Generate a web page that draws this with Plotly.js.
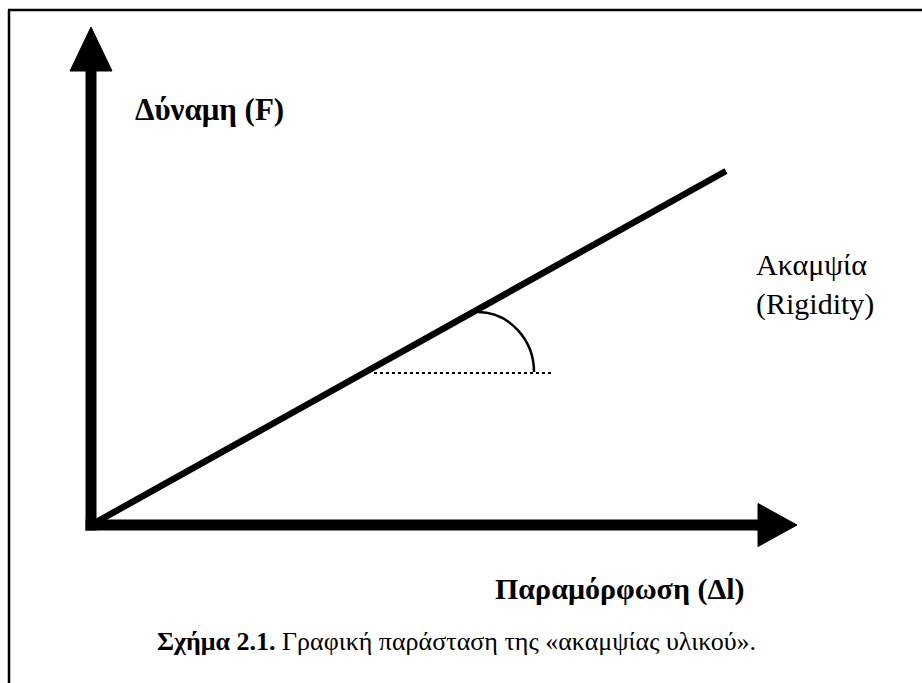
<!DOCTYPE html>
<html>
<head>
<meta charset="utf-8">
<script src="https://cdn.plot.ly/plotly-3.0.1.min.js"></script>
<style>
  html, body { margin: 0; padding: 0; background: #fff; }
  #chart { width: 922px; height: 683px; }
</style>
</head>
<body>
<div id="chart"></div>
<script>
// Force vs. deformation: a straight line whose slope is the rigidity
const deformation = [0, 6.35];
const force = [0, 3.54];

// Axis arrow extents (data units)
const xAxisTip = 7.06, xHeadBase = 6.67;
const yAxisTip = 4.98, yHeadBase = 4.54;

// Labels
const yLabel = 'Δύναμη (F)';
const xLabel = 'Παραμόρφωση (Δl)';
const slopeLabel = ['Ακαμψία', '(Rigidity)'];
const captionBold = 'Σχήμα 2.1.';
const captionText = ' Γραφική παράσταση της «ακαμψίας υλικού».';

const W = 922, H = 683;
const px = v => v / W;
const py = v => 1 - v / H;
const serif = 'Liberation Serif';

// Slope-angle marker: dotted baseline and quarter arc
const baseY = 1.52, baseX0 = 2.83, baseX1 = 4.61;
const arcCx = 3.87, arcTop = 2.13, arcRx = 0.56, arcRy = 0.60;
const k = 0.5523;
const arcPath = `M${arcCx},${arcTop} C${arcCx + arcRx * k},${arcTop} ${arcCx + arcRx},${baseY + arcRy * k} ${arcCx + arcRx},${baseY + 0.01}`;

const trace = {
  x: deformation,
  y: force,
  mode: 'lines',
  line: { color: '#000', width: 6.5 },
  hoverinfo: 'skip',
  showlegend: false
};

const shapes = [
  // y axis shaft and head
  { type: 'line', x0: 0, x1: 0, y0: -0.055, y1: yHeadBase + 0.02, line: { color: '#000', width: 11 } },
  { type: 'path', path: `M-0.21,${yHeadBase} L0.21,${yHeadBase} L0,${yAxisTip} Z`, fillcolor: '#000', line: { color: '#000', width: 1 } },
  // x axis shaft and head
  { type: 'line', y0: 0, y1: 0, x0: -0.055, x1: xHeadBase + 0.02, line: { color: '#000', width: 11 } },
  { type: 'path', path: `M${xHeadBase},-0.215 L${xHeadBase},0.215 L${xAxisTip},0 Z`, fillcolor: '#000', line: { color: '#000', width: 1 } },
  // angle marker
  { type: 'line', x0: baseX0, x1: baseX1, y0: baseY, y1: baseY, line: { color: '#000', width: 2, dash: 'dot' } },
  { type: 'path', path: arcPath, line: { color: '#000', width: 2.5 } },
  // frame (left and top edges)
  { type: 'line', xref: 'paper', yref: 'paper', x0: px(9), x1: px(9), y0: 0, y1: py(10), line: { color: '#000', width: 2.5 } },
  { type: 'line', xref: 'paper', yref: 'paper', x0: px(8), x1: 1, y0: py(10), y1: py(10), line: { color: '#000', width: 2.5 } }
];

const annotations = [
  { text: '<b>' + yLabel + '</b>', xref: 'paper', yref: 'paper', x: px(133), y: py(110),
    xanchor: 'left', yanchor: 'middle', showarrow: false, font: { family: serif, size: 31, color: '#000' } },
  { text: '<b>' + xLabel + '</b>', xref: 'paper', yref: 'paper', x: px(493), y: py(589),
    xanchor: 'left', yanchor: 'middle', showarrow: false, font: { family: serif, size: 30, color: '#000' } },
  { text: slopeLabel.join('<br>'), xref: 'paper', yref: 'paper', x: px(754), y: py(284),
    xanchor: 'left', yanchor: 'middle', align: 'left', showarrow: false, font: { family: serif, size: 30, color: '#000' } },
  { text: '<b>' + captionBold + '</b>' + captionText, xref: 'paper', yref: 'paper', x: px(155), y: py(641),
    xanchor: 'left', yanchor: 'middle', showarrow: false, font: { family: serif, size: 26, color: '#000' } }
];

const layout = {
  width: W, height: H,
  margin: { l: 0, r: 0, t: 0, b: 0, pad: 0 },
  paper_bgcolor: '#fff', plot_bgcolor: '#fff',
  font: { family: serif },
  xaxis: { range: [-0.91, 8.31], visible: false, fixedrange: true },
  yaxis: { range: [-1.58, 5.25], visible: false, fixedrange: true },
  shapes: shapes,
  annotations: annotations,
  showlegend: false
};

Plotly.newPlot('chart', [trace], layout, { displayModeBar: false, staticPlot: true });
</script>
</body>
</html>
